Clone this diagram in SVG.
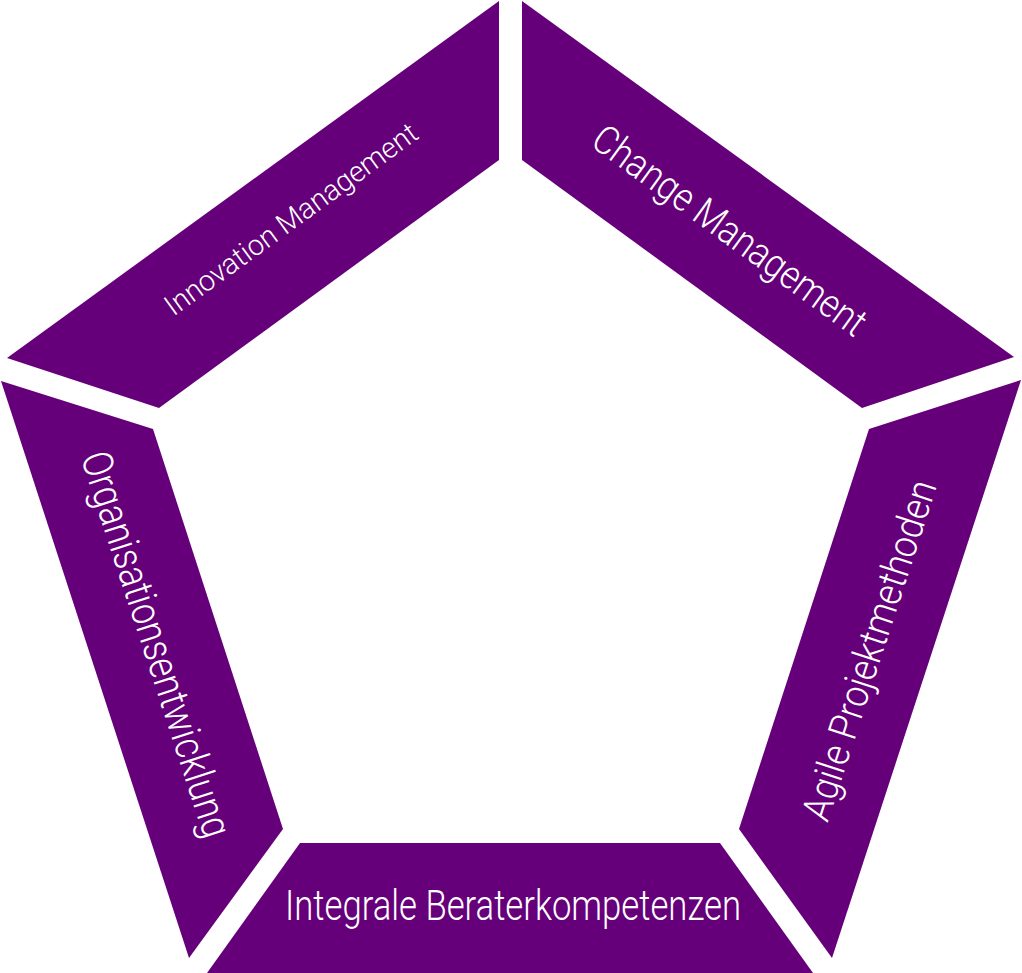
<svg xmlns="http://www.w3.org/2000/svg" width="1022" height="973" viewBox="0 0 1022 973">
<style>
.seg{fill:#66007a;stroke:none}
.lbl{fill:#ffffff;font-family:Roboto,"Liberation Sans",sans-serif;font-weight:300;text-anchor:middle}
</style>
<rect width="1022" height="973" fill="#ffffff"/>
<g id="innovation">
<polygon class="seg" points="7,358 499,1 499,160 159,408"/>
<text class="lbl" transform="translate(291,219) rotate(-36)" x="0" y="10" font-size="29" textLength="305" lengthAdjust="spacingAndGlyphs">Innovation Management</text>
</g>
<g id="change">
<polygon class="seg" points="522,1 1014,357 862,408 522,160"/>
<text class="lbl" transform="translate(730,230) rotate(36)" x="0" y="14" font-size="40" textLength="328" lengthAdjust="spacingAndGlyphs">Change Management</text>
</g>
<g id="agile">
<polygon class="seg" points="1021,380 832,958 739,829 869,429"/>
<text class="lbl" transform="translate(869,650) rotate(-72)" x="0" y="14" font-size="40" textLength="355" lengthAdjust="spacingAndGlyphs">Agile Projektmethoden</text>
</g>
<g id="integrale">
<polygon class="seg" points="300,843 720,843 813,973 207,973"/>
<text class="lbl" x="513" y="920" font-size="43" textLength="456" lengthAdjust="spacingAndGlyphs">Integrale Beraterkompetenzen</text>
</g>
<g id="organisation">
<polygon class="seg" points="1,381 153,429 283,829 189,958"/>
<text class="lbl" transform="translate(157,644) rotate(72)" x="0" y="15" font-size="42" textLength="403" lengthAdjust="spacingAndGlyphs">Organisationsentwicklung</text>
</g>
<g id="connectors"/>
</svg>
